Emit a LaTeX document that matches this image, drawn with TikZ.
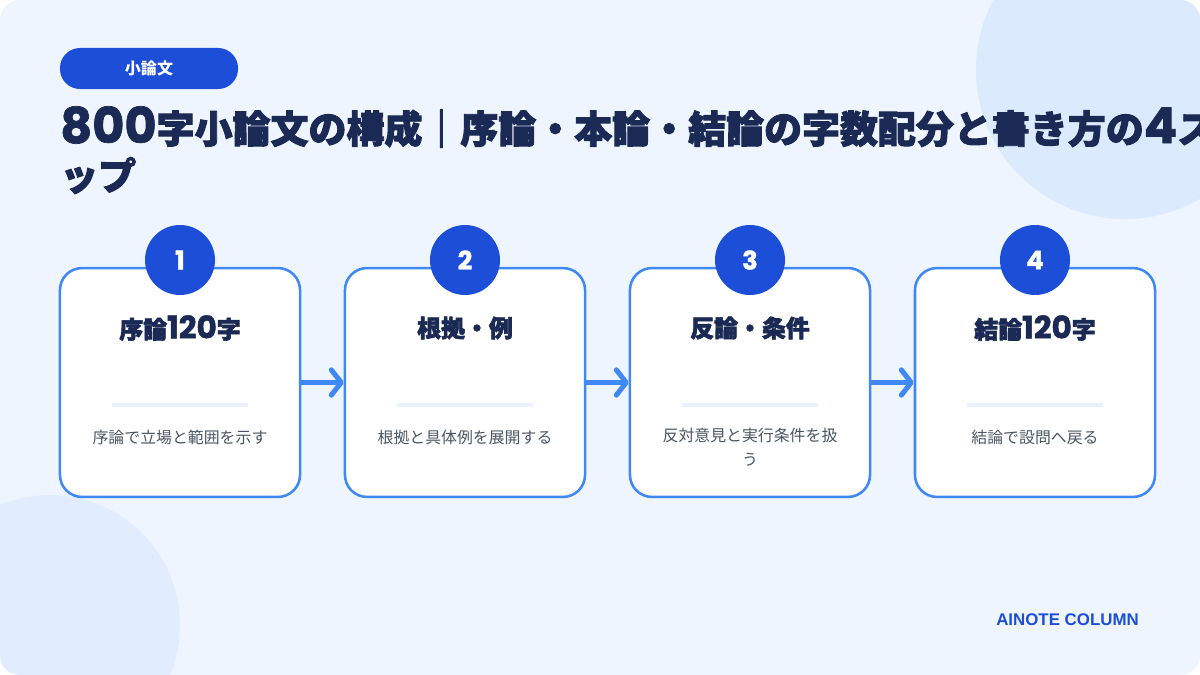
\documentclass[tikz,border=0pt]{standalone}
\usepackage{fontspec}
\setmainfont{Noto Sans CJK JP}
\newfontfamily\heavyfont{Noto Sans CJK JP}[BoldFeatures={FakeBold=2.4}]
\newfontfamily\numfont{Poppins}[Scale=1.3, BoldFeatures={FakeBold=1.5}]
\newfontfamily\brandfont{Liberation Sans}
\usetikzlibrary{arrows.meta, positioning}
\definecolor{pagebg}{HTML}{EEF5FF}
\definecolor{blobA}{HTML}{DCEAFD}
\definecolor{blobB}{HTML}{E1EDFE}
\definecolor{mainblue}{HTML}{1D4ED8}
\definecolor{cardline}{HTML}{4088F4}
\definecolor{navy}{HTML}{1B2A55}
\definecolor{rulecol}{HTML}{EAF2FD}
\definecolor{notegray}{HTML}{4B5563}

\begin{document}
\begin{tikzpicture}[x=0.025cm, y=-0.025cm,
        card/.style={draw=cardline, line width=1.8pt, fill=white, rounded corners=0.55cm, minimum width=6cm, minimum height=5.72cm},
        badge/.style={circle, fill=mainblue, text=white, minimum size=1.75cm, inner sep=0pt, font=\numfont\bfseries\fontsize{14}{16}\selectfont},
        heading/.style={text=navy, inner sep=0pt, font=\heavyfont\bfseries\fontsize{17}{20}\selectfont},
        divider/.style={fill=rulecol, minimum width=3.4cm, minimum height=0.1cm, inner sep=0pt},
        note/.style={text=notegray, align=center, inner sep=0pt, font=\fontsize{11.3}{17}\selectfont},
        flow/.style={draw=cardline, line width=3.6pt, line cap=round, -{Straight Barb[length=7pt, width=18pt, line join=round, line cap=round]}}
        ]
        \useasboundingbox (0,0) rectangle (1200,675);
        \fill[white] (0,0) rectangle (1200,675);
        \begin{scope}
            \clip[rounded corners=0.5cm] (0,0) rectangle (1200,675);
            \fill[pagebg] (0,0) rectangle (1200,675);
            \fill[blobA] (1125,70) circle [radius=3.725cm];
            \fill[blobB] (50,625) circle [radius=3.25cm];

            % tag and title
            \node[fill=mainblue, rounded corners=0.5cm, minimum width=4.45cm, minimum height=1.025cm, text=white, font=\bfseries\fontsize{11.4}{14}\selectfont] (tag) at (149,68.5) {小論文};
            \node[anchor=base west, inner sep=0pt, align=left, text=navy, font=\heavyfont\bfseries\fontsize{27}{33.4}\selectfont] (title) at (60,190) {{\numfont 800}字小論文の構成｜序論・本論・結論の字数配分と書き方の{\numfont 4}ス\\ップ};

            % cards
            \node[card] (card1) at (180,382.5) {};
            \node[card] (card2) at (465,382.5) {};
            \node[card] (card3) at (750,382.5) {};
            \node[card] (card4) at (1035,382.5) {};

            \node[badge] (badge1) at (180,260) {1};
            \node[badge] (badge2) at (465,260) {2};
            \node[badge] (badge3) at (750,260) {3};
            \node[badge] (badge4) at (1035,260) {4};

            \node[heading] (head1) at (180,328) {序論{\numfont 120}字};
            \node[heading] (head2) at (465,328) {根拠・例};
            \node[heading] (head3) at (750,328) {反論・条件};
            \node[heading] (head4) at (1035,328) {結論{\numfont 120}字};

            \node[divider] (rule1) at (180,405) {};
            \node[divider] (rule2) at (465,405) {};
            \node[divider] (rule3) at (750,405) {};
            \node[divider] (rule4) at (1035,405) {};

            \node[note] (note1) at (180,437) {序論で立場と範囲を示す};
            \node[note] (note2) at (465,437) {根拠と具体例を展開する};
            \node[note, anchor=north] (note3) at (750,428) {反対意見と実行条件を扱\\う};
            \node[note] (note4) at (1035,437) {結論で設問へ戻る};

            % arrows between steps
            \draw[flow] (card1.east) -- (card2.west);
            \draw[flow] (card2.east) -- (card3.west);
            \draw[flow] (card3.east) -- (card4.west);

            \node[text=mainblue, inner sep=0pt, font=\brandfont\bfseries\fontsize{12}{14}\selectfont] (brand) at (1067.5,620) {AINOTE COLUMN};
        \end{scope}
    \end{tikzpicture}
\end{document}
